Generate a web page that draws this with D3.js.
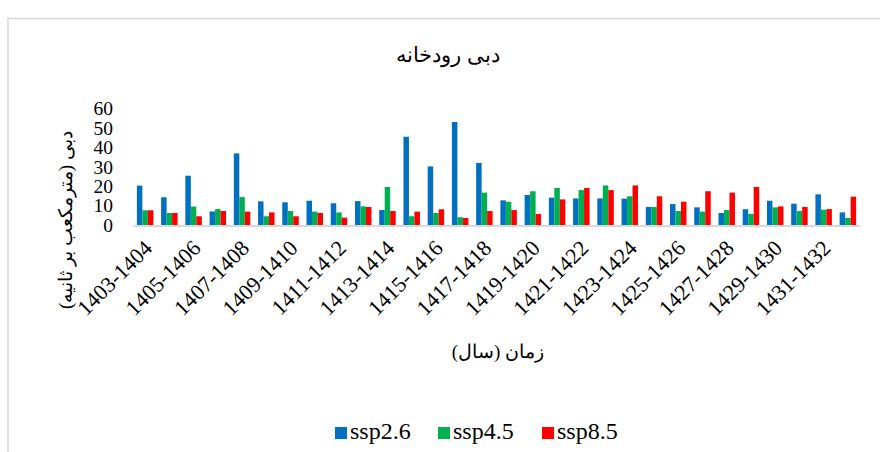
<!DOCTYPE html>
<html>
<head>
<meta charset="utf-8">
<script src="https://cdn.jsdelivr.net/npm/d3@7"></script>
<style>
  body { margin: 0; background: #fff; }
</style>
</head>
<body>
<div id="canvas"></div>
<script>
// categories: 30 two-year labels, every other one is drawn on the axis
var years = d3.range(1403, 1433).map(function (y) { return y + "-" + (y + 1); });

var ssp26 = [20.3, 14.3, 25.4, 7.0, 36.9, 12.2, 11.7, 12.5, 11.2, 12.3,
             7.7, 45.5, 30.2, 53.1, 32.0, 12.7, 15.5, 14.1, 13.7, 13.7,
             13.6, 9.3, 10.8, 9.1, 6.2, 8.1, 12.5, 11.0, 15.8, 6.5];
var ssp45 = [7.6, 6.2, 9.5, 8.2, 14.4, 4.5, 7.2, 6.9, 6.5, 9.6,
             19.6, 4.5, 6.2, 4.0, 16.7, 12.0, 17.4, 19.1, 18.0, 20.4,
             14.8, 9.3, 7.2, 6.9, 7.7, 5.7, 9.1, 7.2, 7.9, 3.6];
var ssp85 = [7.6, 6.2, 4.5, 7.2, 6.9, 6.5, 4.5, 6.2, 3.8, 9.3,
             7.2, 6.9, 8.1, 3.6, 7.2, 7.7, 5.7, 13.2, 19.1, 18.0,
             20.4, 14.8, 12.0, 17.4, 16.7, 19.6, 9.6, 9.3, 8.2, 14.6];

var seriesNames = ["ssp2.6", "ssp4.5", "ssp8.5"];
var seriesValues = [ssp26, ssp45, ssp85];
var colors = ["#0070C0", "#00B050", "#FF0000"];
var yTicks = [0, 10, 20, 30, 40, 50, 60];

var W = 880, H = 452;
var plotLeft = 133, plotRight = 860, plotBottom = 225, plotTop = 108.6;
var serif = "'Liberation Serif', 'Times New Roman', 'DejaVu Serif', serif";

var svg = d3.select("#canvas").append("svg")
    .attr("width", W)
    .attr("height", H)
    .attr("font-family", serif);

// chart frame
svg.append("rect")
    .attr("x", 8).attr("y", 18.5)
    .attr("width", 900).attr("height", 500)
    .attr("fill", "none")
    .attr("stroke", "#d9d9d9")
    .attr("stroke-width", 1.5);

var x0 = d3.scaleBand().domain(years).range([plotLeft, plotRight]).paddingInner(0.32).paddingOuter(0.16);
var x1 = d3.scaleBand().domain(seriesNames).range([0, x0.bandwidth()]);
var y = d3.scaleLinear().domain([0, 60]).range([plotBottom, plotTop]);

// bars
var groups = svg.selectAll("g.grp")
    .data(years).enter()
    .append("g")
    .attr("class", "grp")
    .attr("transform", function (d) { return "translate(" + x0(d) + ",0)"; });

groups.selectAll("rect")
    .data(function (d, i) {
        return seriesNames.map(function (s, j) { return { s: s, v: seriesValues[j][i], c: colors[j] }; });
    })
    .enter().append("rect")
    .attr("x", function (d) { return x1(d.s); })
    .attr("width", x1.bandwidth())
    .attr("y", function (d) { return y(d.v); })
    .attr("height", function (d) { return y(0) - y(d.v); })
    .attr("fill", function (d) { return d.c; });

// x axis line
svg.append("line")
    .attr("x1", plotLeft).attr("x2", plotRight)
    .attr("y1", plotBottom + 1).attr("y2", plotBottom + 1)
    .attr("stroke", "#d9d9d9")
    .attr("stroke-width", 2);

// x labels (every other category)
svg.selectAll("text.xl")
    .data(years.filter(function (d, i) { return i % 2 === 0; }))
    .enter().append("text")
    .attr("class", "xl")
    .attr("text-anchor", "end")
    .attr("font-size", "22px")
    .attr("transform", function (d) {
        return "translate(" + (x0(d) + x0.bandwidth() / 2 + 3) + "," + (plotBottom + 19) + ") rotate(-45)";
    })
    .attr("dy", "0.35em")
    .text(function (d) { return d; });

// y labels
svg.selectAll("text.yl")
    .data(yTicks).enter()
    .append("text")
    .attr("class", "yl")
    .attr("text-anchor", "end")
    .attr("font-size", "19.5px")
    .attr("x", 113)
    .attr("y", function (d) { return y(d); })
    .attr("dy", "0.35em")
    .text(function (d) { return d; });

// title
svg.append("text")
    .attr("x", 448).attr("y", 62)
    .attr("text-anchor", "middle")
    .attr("font-size", "21px")
    .text("دبی رودخانه");

// axis titles
svg.append("text")
    .attr("x", 498).attr("y", 358)
    .attr("text-anchor", "middle")
    .attr("font-size", "19px")
    .text("زمان (سال)");

svg.append("text")
    .attr("transform", "translate(72,220) rotate(-90)")
    .attr("text-anchor", "middle")
    .attr("font-size", "19px")
    .text("دبی (مترمکعب بر ثانیه)");

// legend
var legendX = [335, 438, 542];
var legend = svg.selectAll("g.lg")
    .data(seriesNames).enter()
    .append("g")
    .attr("transform", function (d, i) { return "translate(" + legendX[i] + ",427)"; });
legend.append("rect")
    .attr("width", 12).attr("height", 12)
    .attr("fill", function (d, i) { return colors[i]; });
legend.append("text")
    .attr("x", 15).attr("y", 12)
    .attr("font-size", "24px")
    .text(function (d) { return d; });
</script>
</body>
</html>
